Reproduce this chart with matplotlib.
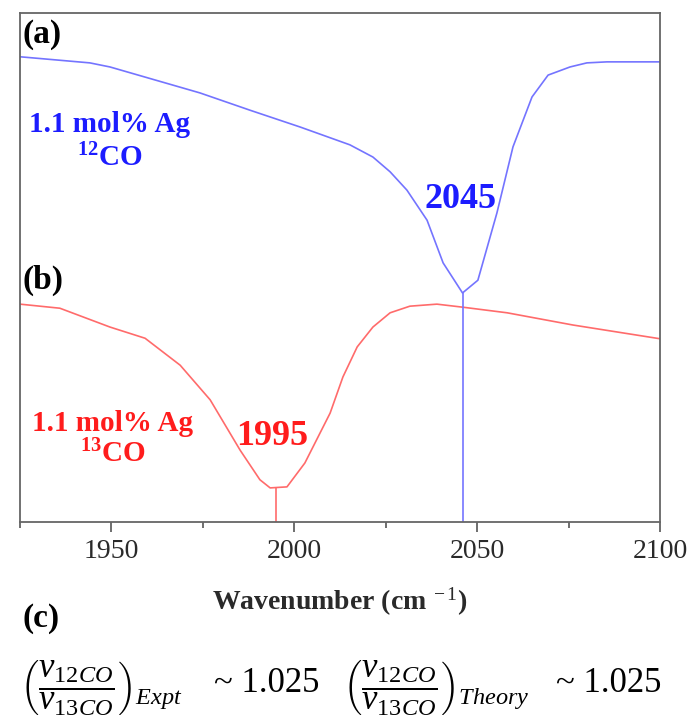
import numpy as np
import matplotlib.pyplot as plt
from matplotlib.ticker import MultipleLocator

plt.rcParams['font.family'] = 'Liberation Serif'
plt.rcParams['mathtext.fontset'] = 'custom'
plt.rcParams['mathtext.rm'] = 'Liberation Serif'
plt.rcParams['mathtext.it'] = 'Liberation Serif:italic'
plt.rcParams['mathtext.bf'] = 'Liberation Serif:bold'

# spectra (transmittance, arbitrary units)
wn_12co = [1925.0, 1944.1, 1949.6, 1974.2, 1987.9, 2001.6, 2015.2, 2021.5, 2026.2,
           2030.8, 2036.3, 2040.7, 2046.0, 2050.2, 2055.4, 2059.8, 2065.0, 2069.4,
           2075.4, 2080.0, 2085.5, 2100.0]
t_12co = [91.4, 90.2, 89.4, 84.3, 80.9, 77.6, 74.1, 71.7, 68.8,
          65.2, 59.3, 50.9, 45.0, 47.5, 60.7, 73.7, 83.5, 87.8,
          89.4, 90.2, 90.4, 90.4]

wn_13co = [1925.0, 1935.9, 1949.6, 1959.2, 1968.8, 1977.0, 1985.2, 1990.6, 1993.4,
           1998.0, 2002.9, 2009.8, 2013.3, 2017.2, 2021.5, 2026.2, 2031.6, 2039.0,
           2046.1, 2058.2, 2076.2, 2100.0]
t_13co = [42.8, 42.0, 38.3, 36.1, 30.8, 24.0, 14.1, 8.3, 6.7,
          6.9, 11.6, 21.4, 28.5, 34.4, 38.3, 41.1, 42.4, 42.8,
          42.2, 41.1, 38.7, 36.0]

peak_12co = 2046
peak_13co = 1995
peak_labels = ['2045', '1995']
ratio_text = ['~ 1.025', '~ 1.025']

blue_line = '#7474ff'
red_line = '#ff6b6b'
blue_text = '#1c1cff'
red_text = '#ff1c1c'

fig = plt.figure(figsize=(6.92, 7.27), dpi=100)
ax = fig.add_axes([20 / 692, 1 - 522 / 727, 640 / 692, 509 / 727])

ax.plot(wn_12co, t_12co, color=blue_line, lw=1.2)
ax.plot(wn_13co, t_13co, color=red_line, lw=1.2)

# drop lines from the band minima to the axis
ax.vlines(peak_12co, 0, np.interp(peak_12co, wn_12co, t_12co), color=blue_line, lw=1.2)
ax.vlines(peak_13co, 0, np.interp(peak_13co, wn_13co, t_13co), color=red_line, lw=1.2)

ax.set_xlim(1925, 2100)
ax.set_ylim(0, 100)
ax.set_yticks([])
ax.xaxis.set_major_locator(MultipleLocator(50))
ax.xaxis.set_minor_locator(MultipleLocator(25))
ax.tick_params(axis='x', which='major', direction='out', length=7, width=1.2,
               color='#555555', labelsize=20, labelcolor='#2a2a2a', pad=5)
ax.tick_params(axis='x', which='minor', direction='out', length=4, width=1.2,
               color='#555555')
for s in ax.spines.values():
    s.set_color('#666666')
    s.set_linewidth(1.3)

ax.set_xlabel(r'Wavenumber (cm$^{\ -1}$)', fontsize=20, color='#2a2a2a',
              fontweight='bold', labelpad=16)

# peak labels
ax.text(peak_12co - 0.5, 63.3, peak_labels[0], color=blue_text, fontsize=26,
        fontweight='bold', ha='center', va='center')
ax.text(peak_13co - 1.0, 16.7, peak_labels[1], color=red_text, fontsize=26,
        fontweight='bold', ha='center', va='center')

# sample labels
ax.text(1949.6, 78.0, '1.1 mol% Ag', color=blue_text, fontsize=21, fontweight='bold',
        ha='center', va='center')
ax.text(1949.6, 71.6, r'$^{\mathbf{12}}$CO', color=blue_text, fontsize=21,
        fontweight='bold', ha='center', va='center')
ax.text(1950.4, 19.4, '1.1 mol% Ag', color=red_text, fontsize=21, fontweight='bold',
        ha='center', va='center')
ax.text(1950.4, 13.4, r'$^{\mathbf{13}}$CO', color=red_text, fontsize=21,
        fontweight='bold', ha='center', va='center')

# panel letters
fig.text(22 / 692, 1 - 35 / 727, '(a)', fontsize=24, fontweight='bold', va='center')
fig.text(22 / 692, 1 - 280 / 727, '(b)', fontsize=24, fontweight='bold', va='center')
fig.text(22 / 692, 1 - 618 / 727, '(c)', fontsize=24, fontweight='bold', va='center')

# isotope ratio formulas
fig.text(20 / 692, 1 - 688 / 727,
         r'$\left(\dfrac{v_{12CO}}{v_{13CO}}\right)_{Expt}$', fontsize=25, va='center')
fig.text(214 / 692, 1 - 684 / 727, ratio_text[0], fontsize=25, va='center')
fig.text(343 / 692, 1 - 688 / 727,
         r'$\left(\dfrac{v_{12CO}}{v_{13CO}}\right)_{Theory}$', fontsize=25, va='center')
fig.text(556 / 692, 1 - 684 / 727, ratio_text[1], fontsize=25, va='center')

fig.savefig('out.png', dpi=100)
